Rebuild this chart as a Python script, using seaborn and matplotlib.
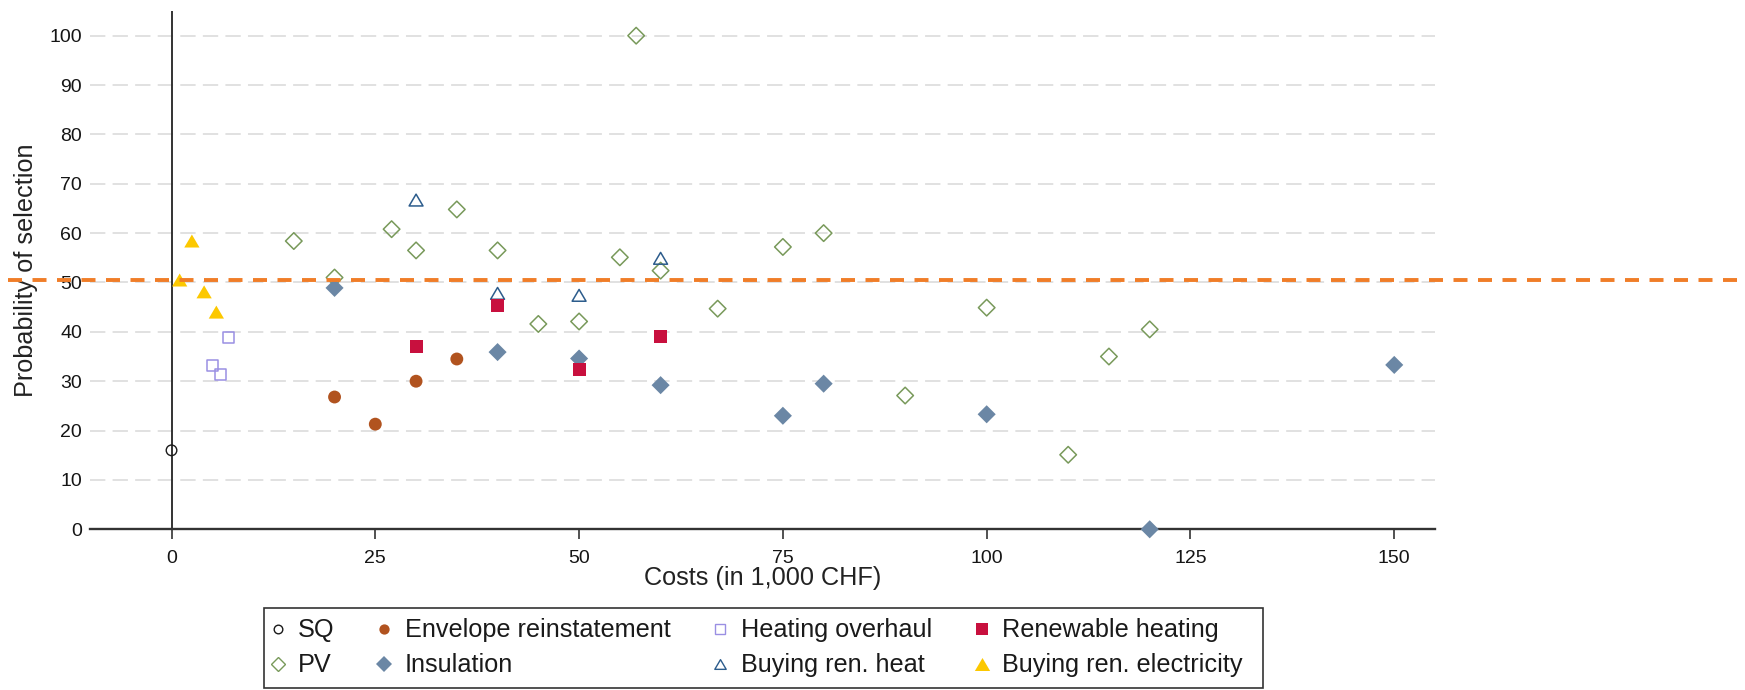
import matplotlib
matplotlib.use("Agg")
import matplotlib.pyplot as plt
import seaborn as sns
import pandas as pd
from matplotlib.lines import Line2D
from matplotlib.path import Path
from matplotlib.patches import Rectangle

# ---------------- data ----------------
sq_cost = [0]
sq_prob = [16.0]

env_cost = [20, 25, 30, 35]
env_prob = [26.8, 21.3, 30.0, 34.5]

hov_cost = [5, 6, 7]
hov_prob = [33.1, 31.4, 38.8]

ren_cost = [30, 40, 50, 60]
ren_prob = [37.0, 45.4, 32.4, 39.1]

pv_cost = [15, 20, 27, 30, 35, 40, 45, 50, 55, 57, 60, 67, 75, 80, 90, 100, 110, 115, 120]
pv_prob = [58.4, 51.0, 60.8, 56.5, 64.8, 56.5, 41.6, 42.1, 55.1, 100.0, 52.4, 44.7,
           57.2, 60.0, 27.1, 44.9, 15.1, 35.0, 40.5]

ins_cost = [20, 40, 50, 60, 75, 80, 100, 120, 150]
ins_prob = [48.9, 35.9, 34.6, 29.2, 23.0, 29.5, 23.3, 0.0, 33.3]

brh_cost = [30, 40, 50, 60]
brh_prob = [66.7, 47.8, 47.4, 54.9]

bre_cost = [1.0, 2.5, 4.0, 5.5]
bre_prob = [50.5, 58.4, 48.1, 44.0]

threshold = 50.6

x_ticks = [0, 25, 50, 75, 100, 125, 150]
y_ticks = [0, 10, 20, 30, 40, 50, 60, 70, 80, 90, 100]

x_label = "Costs (in 1,000 CHF)"
y_label = "Probability of selection"

# ---------------- style ----------------
sns.set_theme(style="white")
plt.rcParams["font.family"] = ["Liberation Sans", "DejaVu Sans"]

tri = Path([(-1, -0.85), (1, -0.85), (0, 0.85), (-1, -0.85)],
           [Path.MOVETO, Path.LINETO, Path.LINETO, Path.CLOSEPOLY])

# label, cost, prob, marker, s, color, filled, lw, legend ms, legend mew
groups = [
    ("SQ", sq_cost, sq_prob, "o", 58, "#1a1a1a", False, 1.0, 6.2, 1.0),
    ("PV", pv_cost, pv_prob, "D", 71, "#78995a", False, 1.1, 7.2, 1.0),
    ("Envelope reinstatement", env_cost, env_prob, "o", 86, "#b1531f", True, 0, 7.4, 0),
    ("Insulation", ins_cost, ins_prob, "D", 85, "#6b87a5", True, 0, 8.4, 0),
    ("Heating overhaul", hov_cost, hov_prob, "s", 64, "#9a8fe3", False, 1.1, 6.6, 1.0),
    ("Buying ren. heat", brh_cost, brh_prob, tri, 100, "#2c5c8c", False, 1.1, 8.2, 1.0),
    ("Renewable heating", ren_cost, ren_prob, "s", 86, "#c8103e", True, 0, 8.4, 0),
    ("Buying ren. electricity", bre_cost, bre_prob, tri, 121, "#fcc800", True, 0, 11.0, 0),
]

W, H = 1745, 690
fig = plt.figure(figsize=(W / 100, H / 100), dpi=100)
fig.patch.set_facecolor("white")

ax_l, ax_r, ax_t, ax_b = 90, 1435, 11, 529.3
ax = fig.add_axes([ax_l / W, 1 - ax_b / H, (ax_r - ax_l) / W, (ax_b - ax_t) / H])
ax.set_facecolor("white")

for label, cost, prob, marker, s, color, filled, lw, lms, lmew in groups:
    df = pd.DataFrame({"cost": cost, "prob": prob})
    sns.scatterplot(data=df, x="cost", y="prob", ax=ax, marker=marker, s=s,
                    color=color,
                    facecolor=color if filled else "none",
                    edgecolor=color if not filled else "none",
                    linewidth=lw, zorder=3, clip_on=False, legend=False)

ax.set_xlim(-10, 155)
ax.set_ylim(0, 105)
ax.set_xticks(x_ticks)
ax.set_yticks(y_ticks)
ax.set_xticklabels([str(v) for v in x_ticks])
ax.set_yticklabels([str(v) for v in y_ticks])

ax.set_axisbelow(True)
ax.yaxis.grid(True, color="#dedede", linewidth=1.3, linestyle=(0, (8.5, 4.0)))
ax.xaxis.grid(False)

for side in ["top", "right", "left"]:
    ax.spines[side].set_visible(False)
ax.spines["bottom"].set_color("#333333")
ax.spines["bottom"].set_linewidth(1.7)

ax.tick_params(axis="x", direction="out", length=7.2, width=1.2, color="#333333",
               pad=8, labelsize=14, labelcolor="#151515", bottom=True)
ax.tick_params(axis="y", length=0, pad=5.8, labelsize=14, labelcolor="#151515", left=True)

ax.axvline(0, color="#333333", linewidth=1.4, zorder=2.4)
ax.axhline(threshold, xmin=(8 - ax_l) / (ax_r - ax_l), xmax=(W - ax_l) / (ax_r - ax_l),
           clip_on=False, color="#f07d28", linewidth=2.8, linestyle=(0, (3.6, 2.7)), zorder=4)

ax.set_xlabel(x_label, fontsize=18.2, color="#222222")
ax.set_ylabel(y_label, fontsize=18.2, color="#222222")
ax.xaxis.label.set_va("center")
ax.yaxis.label.set_va("center")
ax.yaxis.label.set_ha("center")
ax.xaxis.set_label_coords(0.5, (ax_b - 578.5) / (ax_b - ax_t))
ax.yaxis.set_label_coords((26.5 - ax_l) / (ax_r - ax_l), 0.5)

handles = []
labels = []
for label, cost, prob, marker, s, color, filled, lw, lms, lmew in groups:
    h = Line2D([], [], linestyle="none", marker=marker, markersize=lms,
               markerfacecolor=color if filled else "none",
               markeredgecolor=color if not filled else "none",
               markeredgewidth=lmew)
    handles.append(h)
    labels.append(label)

# legend frame (drawn separately) and legend content
box_l, box_r, box_t, box_b = 264, 1263, 608, 688
fig.patches.append(Rectangle((box_l / W, 1 - box_b / H), (box_r - box_l) / W, (box_b - box_t) / H,
                             transform=fig.transFigure, facecolor="white",
                             edgecolor="#333333", linewidth=1.2, zorder=0))
cont_l, cont_r = 261, 1253
leg = fig.legend(handles, labels, ncol=4, loc="upper left",
                 bbox_to_anchor=(cont_l / W, 1 - box_b / H, (cont_r - cont_l) / W, (box_b - box_t) / H),
                 mode="expand", borderaxespad=0, frameon=False, fontsize=18.2,
                 handlelength=0.5, handletextpad=0.55, borderpad=0.41, labelspacing=0.44)
for t in leg.get_texts():
    t.set_color("#1a1a1a")

fig.savefig("out.png", dpi=100, facecolor="white")
